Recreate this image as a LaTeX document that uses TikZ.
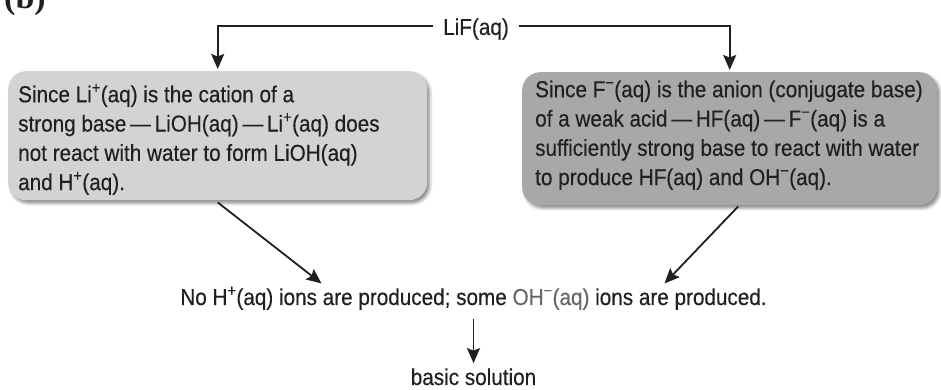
\documentclass[tikz,border=0pt]{standalone}
\usepackage{fontspec}
\setmainfont{Liberation Sans}[FakeStretch=0.9, FakeBold=0.4]
\newfontfamily\labelfont{Liberation Serif}
\usetikzlibrary{arrows.meta,calc,shadows.blur}
\definecolor{txt}{RGB}{35,31,32}
\definecolor{boxL}{RGB}{211,211,211}
\definecolor{boxR}{RGB}{168,168,168}
\newcommand{\supx}[1]{\textsuperscript{#1}}
\tikzset{
  bubble/.style={draw=none, rounded corners=18pt, inner sep=0pt,
    blur shadow={shadow xshift=2.5pt, shadow yshift=-3pt, shadow blur radius=3pt, shadow opacity=45}},
  para/.style={anchor=north west, inner sep=0pt, align=left, text=txt,
    font=\fontsize{23}{29.3}\selectfont},
  lbl/.style={text=txt, inner sep=3pt, font=\fontsize{23}{29.3}\selectfont},
  arr/.style={draw=txt, line width=1.8pt, -{Stealth[length=15pt,width=13pt,inset=2.5pt]}}
}
\begin{document}
\begin{tikzpicture}[x=1pt,y=1pt]
\useasboundingbox (0,0) rectangle (941,390);
\node[anchor=base west, inner sep=0pt, font=\labelfont\bfseries\fontsize{34}{34}\selectfont, text=txt] (tag) at (4,381) {(b)};
% boxes
\node[bubble, fill=boxL, anchor=north west, minimum width=419pt, minimum height=129pt] (L) at (8,319) {};
\node[bubble, fill=boxR, anchor=north west, minimum width=415pt, minimum height=133pt] (R) at (522,318) {};
\node[para] (Lt) at (18,308.5) {\strut Since Li\supx{+}(aq) is the cation of a\\
strong base\,—\,LiOH(aq)\,—\,Li\supx{+}(aq) does\\
not react with water to form LiOH(aq)\\
and H\supx{+}(aq).};
\node[para] (Rt) at (535,313.5) {\strut Since F\supx{−}(aq) is the anion (conjugate base)\\
of a weak acid\,—\,HF(aq)\,—\,F\supx{−}(aq) is a\\
sufficiently strong base to react with water\\
to produce HF(aq) and OH\supx{−}(aq).};
% top label
\node[lbl, inner xsep=10pt] (lif) at (476,361) {LiF(aq)};
\node[lbl, anchor=base] (main) at (473.5,85) {No H\supx{+}(aq) ions are produced; some {\color{black!60}OH\supx{−}(aq)} ions are produced.};
\node[lbl, anchor=base] (basic) at (473.5,5) {basic solution};
% connectors
\draw[arr] ([yshift=3pt]lif.west) -| ([yshift=2pt]L.north);
\draw[arr] ([yshift=3pt]lif.east) -| ([yshift=2pt]R.north);
\draw[arr] ([yshift=-2pt]L.south) -- ($(main.north)+(-152,0)$);
\draw[arr] ($(R.south)+(8.5,-1)$) -- ($(main.north)+(191,0)$);
\draw[arr, shorten <=6pt, shorten >=2pt] (main.south) -- (basic.north);
\end{tikzpicture}
\end{document}
